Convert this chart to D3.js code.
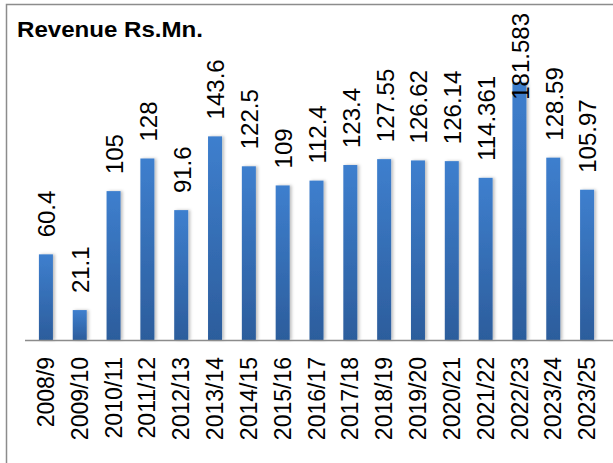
<!DOCTYPE html>
<html>
<head>
<meta charset="utf-8">
<script src="https://cdn.jsdelivr.net/npm/d3@7"></script>
<style>
  body { margin: 0; background: #fff; }
  svg { display: block; }
</style>
</head>
<body>
<div id="chart"></div>
<script>
var years = ["2008/9", "2009/10", "2010/11", "2011/12", "2012/13", "2013/14", "2014/15", "2015/16",
    "2016/17", "2017/18", "2018/19", "2019/20", "2020/21", "2021/22", "2022/23", "2023/24", "2023/25"];
var revenue = [60.4, 21.1, 105, 128, 91.6, 143.6, 122.5, 109, 112.4, 123.4, 127.55, 126.62, 126.14,
    114.361, 181.583, 128.59, 105.97];
var labels = ["60.4", "21.1", "105", "128", "91.6", "143.6", "122.5", "109", "112.4", "123.4", "127.55",
    "126.62", "126.14", "114.361", "181.583", "128.59", "105.97"];

var width = 613, height = 463;
var baseY = 340;

var svg = d3.select("#chart").append("svg")
    .attr("width", width)
    .attr("height", height);

var defs = svg.append("defs");
var grad = defs.append("linearGradient")
    .attr("id", "barGrad")
    .attr("x1", 0).attr("y1", 0).attr("x2", 0).attr("y2", 1);
grad.append("stop").attr("offset", "0%").attr("stop-color", "#3e7fce");
grad.append("stop").attr("offset", "100%").attr("stop-color", "#2c5d9c");

var shadow = defs.append("filter")
    .attr("id", "shadow")
    .attr("x", "-50%").attr("y", "-10%").attr("width", "200%").attr("height", "120%");
shadow.append("feDropShadow")
    .attr("dx", 2).attr("dy", 0).attr("stdDeviation", 1.5)
    .attr("flood-color", "#000").attr("flood-opacity", 0.25);

// chart border (only left and top are in view)
svg.append("rect")
    .attr("x", 6.5).attr("y", 4.5)
    .attr("width", 640).attr("height", 480)
    .attr("fill", "none")
    .attr("stroke", "#8c8c8c")
    .attr("stroke-width", 1.5);

svg.append("text")
    .attr("x", 17).attr("y", 37)
    .attr("font-family", "Liberation Sans, Arial, sans-serif")
    .attr("font-weight", "bold")
    .attr("font-size", 22)
    .attr("textLength", 186)
    .attr("lengthAdjust", "spacingAndGlyphs")
    .text("Revenue Rs.Mn.");

var x = d3.scaleBand()
    .domain(years)
    .range([29, 604])
    .paddingInner(0.586)
    .paddingOuter(0.293);

var y = d3.scaleLinear()
    .domain([0, 200])
    .range([baseY, baseY - 283.6]);

svg.append("g")
    .selectAll("rect")
    .data(revenue)
    .join("rect")
    .attr("x", function(d, i) { return x(years[i]); })
    .attr("y", function(d) { return y(d); })
    .attr("width", x.bandwidth())
    .attr("height", function(d) { return y(0) - y(d); })
    .attr("fill", "url(#barGrad)")
    .attr("filter", "url(#shadow)");

// axis line
svg.append("line")
    .attr("x1", 25).attr("x2", 613)
    .attr("y1", baseY + 0.5).attr("y2", baseY + 0.5)
    .attr("stroke", "#8c8c8c")
    .attr("stroke-width", 1.5);

// value labels, rotated, kept inside the plot
var vlab = svg.append("g")
    .selectAll("text")
    .data(revenue)
    .join("text")
    .attr("font-family", "Liberation Sans, Arial, sans-serif")
    .attr("font-size", 24)
    .attr("fill", "#000")
    .attr("dy", "0.35em")
    .text(function(d, i) { return labels[i]; });

vlab.each(function(d, i) {
    var len = this.getComputedTextLength();
    var start = y(d) - 17;
    if (start - len < 13) start = 13 + len;
    var cx = x(years[i]) + x.bandwidth() / 2 + 1;
    d3.select(this).attr("transform", "translate(" + cx + "," + start + ") rotate(-90)");
});

// category labels
svg.append("g")
    .selectAll("text")
    .data(years)
    .join("text")
    .attr("font-family", "Liberation Sans, Arial, sans-serif")
    .attr("font-size", 23)
    .attr("fill", "#000")
    .attr("text-anchor", "end")
    .attr("dy", "0.35em")
    .attr("transform", function(d) {
        return "translate(" + (x(d) + x.bandwidth() / 2) + "," + 357 + ") rotate(-90)";
    })
    .text(function(d) { return d; });
</script>
</body>
</html>
